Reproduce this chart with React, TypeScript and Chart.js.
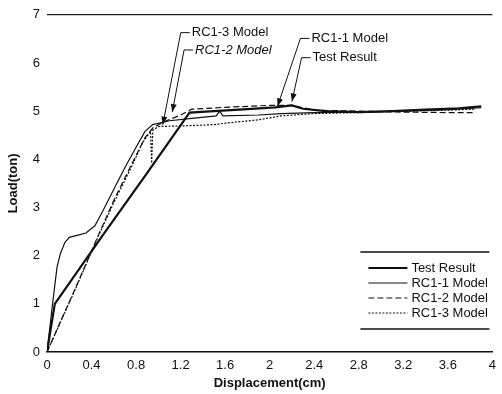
import React, { useEffect, useRef } from "react";
import { Chart, registerables } from "chart.js";

Chart.register(...registerables);

// ---- axis ticks ----
const xTickValues = [0, 0.4, 0.8, 1.2, 1.6, 2, 2.4, 2.8, 3.2, 3.6, 4];
const xTickLabels = ["0", "0.4", "0.8", "1.2", "1.6", "2", "2.4", "2.8", "3.2", "3.6", "4"];
const yTickValues = [0, 1, 2, 3, 4, 5, 6, 7];
const yTickLabels = ["0", "1", "2", "3", "4", "5", "6", "7"];

// ---- series ----
const seriesNames = ["Test Result", "RC1-1 Model", "RC1-2 Model", "RC1-3 Model"];

const testX = [0, 0.07, 0.5, 0.9, 1.28, 1.5, 1.8, 2.05, 2.2, 2.3, 2.5, 2.8, 3.1, 3.4, 3.7, 3.9];
const testY = [0, 1.0, 2.42, 3.72, 4.97, 5.0, 5.04, 5.08, 5.12, 5.05, 5.0, 4.98, 5.0, 5.03, 5.06, 5.1];

const rc11X = [0, 0.05, 0.09, 0.12, 0.16, 0.2, 0.27, 0.35, 0.43, 0.5, 0.6, 0.7, 0.8, 0.88, 0.95, 1.1, 1.3, 1.52, 1.55, 1.58, 1.9, 2.1, 2.4, 2.8, 3.2, 3.6, 3.9];
const rc11Y = [0, 1.0, 1.76, 2.04, 2.27, 2.38, 2.42, 2.47, 2.62, 2.92, 3.38, 3.83, 4.25, 4.58, 4.72, 4.8, 4.85, 4.9, 5.0, 4.9, 4.92, 4.95, 4.97, 4.98, 5.0, 5.03, 5.07];

const rc12X = [0, 0.25, 0.47, 0.6, 0.75, 0.88, 0.95, 1.05, 1.2, 1.3, 1.6, 2.0, 2.2, 2.4, 2.8, 3.2, 3.6, 3.85];
const rc12Y = [0, 1.3, 2.47, 3.15, 3.85, 4.45, 4.65, 4.78, 4.92, 5.04, 5.08, 5.12, 5.12, 5.02, 5.0, 4.98, 4.97, 4.97];

const rc13X = [0, 0.25, 0.47, 0.6, 0.75, 0.86, 0.93, 0.94, 0.95, 1.0, 1.3, 1.5, 1.6, 1.9, 2.1, 2.4, 2.8, 3.2, 3.6, 3.85];
const rc13Y = [0, 1.28, 2.45, 3.1, 3.8, 4.35, 4.58, 3.92, 4.6, 4.68, 4.7, 4.72, 4.75, 4.82, 4.9, 4.95, 4.97, 5.0, 5.02, 5.04];

// ---- callout annotations (data units) ----
const calloutText = ["RC1-3 Model", "RC1-2 Model", "RC1-1 Model", "Test Result"];
const calloutItalic = [false, true, false, false];
const calloutTextX = [1.3, 1.33, 2.375, 2.385];
const calloutTextY = [6.63, 6.27, 6.51, 6.11];
const calloutTipX = [1.04, 1.125, 2.07, 2.2];
const calloutTipY = [4.72, 4.98, 5.1, 5.2];

const FONT = "'Liberation Sans', Arial, Helvetica, sans-serif";

const styles = [
  { width: 2.2, dash: [] as number[] },
  { width: 1.2, dash: [] as number[] },
  { width: 1.2, dash: [6, 3] },
  { width: 1.2, dash: [2, 1.5] },
];

function pts(xs: number[], ys: number[]) {
  return xs.map((x, i) => ({ x, y: ys[i] }));
}

const calloutPlugin = {
  id: "callouts",
  afterDatasetsDraw(chart: any) {
    const { ctx, scales } = chart;
    const xs = scales.x;
    const ys = scales.y;
    ctx.save();
    ctx.strokeStyle = "#111";
    ctx.fillStyle = "#111";
    ctx.lineWidth = 1;
    for (let i = 0; i < calloutText.length; i++) {
      const tx = xs.getPixelForValue(calloutTextX[i]);
      const ty = ys.getPixelForValue(calloutTextY[i]);
      const px = xs.getPixelForValue(calloutTipX[i]);
      const py = ys.getPixelForValue(calloutTipY[i]);
      const cx = tx - 11;
      ctx.beginPath();
      ctx.moveTo(tx - 2, ty);
      ctx.lineTo(cx, ty);
      ctx.lineTo(px, py);
      ctx.stroke();
      const ang = Math.atan2(py - ty, px - cx);
      const L = 8, W = 3;
      ctx.beginPath();
      ctx.moveTo(px, py);
      ctx.lineTo(px - L * Math.cos(ang) + W * Math.sin(ang), py - L * Math.sin(ang) - W * Math.cos(ang));
      ctx.lineTo(px - L * Math.cos(ang) - W * Math.sin(ang), py - L * Math.sin(ang) + W * Math.cos(ang));
      ctx.closePath();
      ctx.fill();
      ctx.font = (calloutItalic[i] ? "italic " : "") + "13px " + FONT;
      ctx.textBaseline = "middle";
      ctx.textAlign = "left";
      ctx.fillText(calloutText[i], tx, ty);
    }
    ctx.restore();
  },
};

const legendPlugin = {
  id: "boxLegend",
  afterDraw(chart: any) {
    const { ctx, chartArea } = chart;
    const r = chartArea.right;
    const b = chartArea.bottom;
    ctx.save();
    ctx.strokeStyle = "#111";
    ctx.lineWidth = 1.3;
    ctx.beginPath();
    ctx.moveTo(r - 132, b - 100);
    ctx.lineTo(r - 3, b - 100);
    ctx.moveTo(r - 132, b - 23);
    ctx.lineTo(r - 3, b - 23);
    ctx.stroke();
    chart.data.datasets.forEach((ds: any, i: number) => {
      const y = b - 84 + i * 15;
      ctx.strokeStyle = "#111";
      ctx.lineWidth = ds.borderWidth;
      ctx.setLineDash(ds.borderDash || []);
      ctx.beginPath();
      ctx.moveTo(r - 124, y);
      ctx.lineTo(r - 85, y);
      ctx.stroke();
      ctx.setLineDash([]);
      ctx.fillStyle = "#111";
      ctx.font = "13px " + FONT;
      ctx.textBaseline = "middle";
      ctx.textAlign = "left";
      ctx.fillText(ds.label, r - 81, y);
    });
    ctx.restore();
  },
};

export default function App() {
  const ref = useRef<HTMLCanvasElement | null>(null);

  useEffect(() => {
    if (!ref.current) return;
    const seriesData = [pts(testX, testY), pts(rc11X, rc11Y), pts(rc12X, rc12Y), pts(rc13X, rc13Y)];
    const chart = new Chart(ref.current, {
      type: "line",
      data: {
        datasets: seriesNames.map((name, i) => ({
          label: name,
          data: seriesData[i],
          borderColor: "#111",
          backgroundColor: "#111",
          borderWidth: styles[i].width,
          borderDash: styles[i].dash,
          pointRadius: 0,
          tension: 0,
          fill: false,
        })),
      },
      options: {
        animation: false,
        responsive: false,
        layout: { padding: { top: 8, right: 5, left: 0, bottom: 0 } },
        plugins: {
          legend: { display: false },
          tooltip: { enabled: false },
        },
        scales: {
          x: {
            type: "linear",
            min: 0,
            max: 4,
            afterBuildTicks: (s: any) => {
              s.ticks = xTickValues.map((v) => ({ value: v }));
            },
            afterFit: (s: any) => {
              s.height = 42;
            },
            ticks: {
              callback: (_v: any, i: number) => xTickLabels[i],
              font: { family: FONT, size: 13 },
              color: "#111",
              maxRotation: 0,
              autoSkip: false,
              padding: 6,
            },
            grid: { display: false, drawTicks: false },
            border: { display: true, color: "#111", width: 1.5 },
            title: {
              display: true,
              text: "Displacement(cm)",
              color: "#111",
              font: { family: FONT, size: 13, weight: "bold" },
              padding: { top: 0, bottom: 3 },
            },
          },
          y: {
            type: "linear",
            min: 0,
            max: 7,
            afterBuildTicks: (s: any) => {
              s.ticks = yTickValues.map((v) => ({ value: v }));
            },
            afterFit: (s: any) => {
              s.width = 47;
            },
            ticks: {
              callback: (_v: any, i: number) => yTickLabels[i],
              font: { family: FONT, size: 13 },
              color: "#111",
              autoSkip: false,
              padding: 7,
            },
            grid: {
              drawTicks: false,
              color: (c: any) => (c.tick && c.tick.value === 7 ? "#222" : "rgba(0,0,0,0)"),
              lineWidth: 1.3,
            },
            border: { display: false },
            title: {
              display: true,
              text: "Load(ton)",
              color: "#111",
              font: { family: FONT, size: 13, weight: "bold" },
              padding: { top: 6, bottom: 0 },
            },
          },
        },
      },
      plugins: [calloutPlugin, legendPlugin],
    } as any);
    return () => chart.destroy();
  }, []);

  return (
    <div style={{ position: "fixed", left: 0, top: 0, width: 502, height: 394, background: "#fff" }}>
      <canvas ref={ref} width={502} height={394} style={{ display: "block" }} />
    </div>
  );
}
